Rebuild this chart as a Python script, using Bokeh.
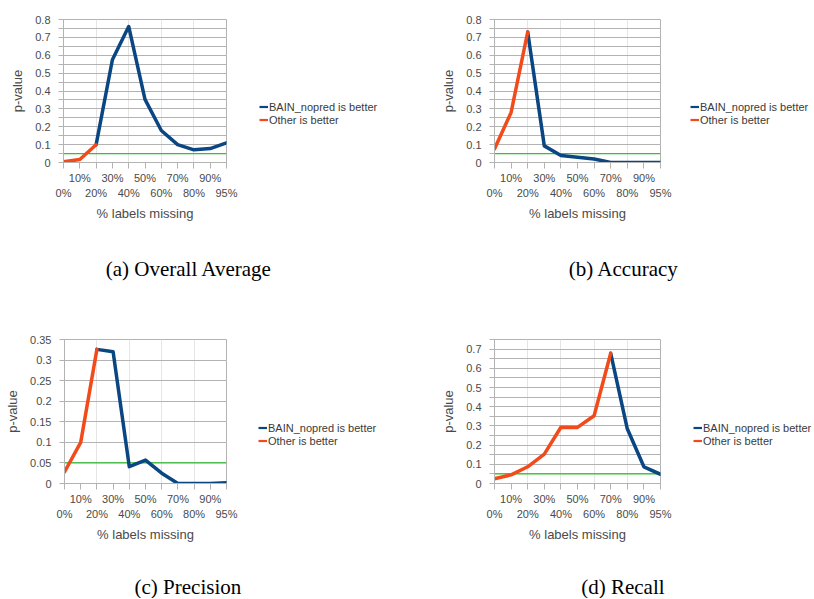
import numpy as np
from bokeh.plotting import figure
from bokeh.models import (Range1d, LinearAxis, FixedTicker, Grid, Span, Legend,
                          LegendItem, Label, NumeralTickFormatter)
from bokeh.layouts import row, column
from bokeh.embed import file_html
from bokeh.resources import INLINE

NaN = float("nan")

# ---------------- data ----------------
pct_labels = ["0%", "10%", "20%", "30%", "40%", "50%", "60%", "70%", "80%", "90%", "95%"]
x_index = list(range(len(pct_labels)))

overall_bain = [NaN, NaN, 0.099, 0.575, 0.761, 0.353, 0.179, 0.100, 0.071, 0.078, 0.110]
overall_other = [0.004, 0.017, 0.099, NaN, NaN, NaN, NaN, NaN, NaN, NaN, NaN]

accuracy_bain = [NaN, NaN, 0.730, 0.093, 0.039, 0.030, 0.020, 0.000, 0.000, 0.000, 0.000]
accuracy_other = [0.076, 0.280, 0.730, NaN, NaN, NaN, NaN, NaN, NaN, NaN, NaN]

precision_bain = [NaN, NaN, 0.326, 0.320, 0.041, 0.057, 0.025, 0.000, 0.000, 0.000, 0.002]
precision_other = [0.028, 0.100, 0.326, NaN, NaN, NaN, NaN, NaN, NaN, NaN, NaN]

recall_bain = [NaN, NaN, NaN, NaN, NaN, NaN, NaN, 0.678, 0.285, 0.087, 0.048]
recall_other = [0.025, 0.045, 0.087, 0.153, 0.293, 0.292, 0.353, 0.678, NaN, NaN, NaN]

yticks_08 = [0, 0.1, 0.2, 0.3, 0.4, 0.5, 0.6, 0.7, 0.8]
yminor_08 = [0.05, 0.15, 0.25, 0.35, 0.45, 0.55, 0.65, 0.75]
yticks_035 = [0, 0.05, 0.1, 0.15, 0.2, 0.25, 0.3, 0.35]
yticks_07 = [0, 0.1, 0.2, 0.3, 0.4, 0.5, 0.6, 0.7]
yminor_075 = [0.05, 0.15, 0.25, 0.35, 0.45, 0.55, 0.65, 0.75]

threshold = 0.05
series_names = ["BAIN_nopred is better", "Other is better"]
captions = ["(a)  Overall Average", "(b)  Accuracy", "(c)  Precision", "(d)  Recall"]
x_title = "% labels missing"
y_title = "p-value"

# ---------------- style ----------------
BLUE = "#0a4682"
ORANGE = "#f24a1a"
GREEN = "#2ec42e"
GRID = "#b3b3b3"
TXT = "#4a4a4a"
SANS = "Liberation Sans"
SERIF = "Liberation Serif"


def blank_figure(w, h):
    f = figure(width=w, height=h, min_border=0,
               x_range=Range1d(0, 1), y_range=Range1d(0, 1),
               x_axis_location=None, y_axis_location=None,
               tools="", toolbar_location=None, output_backend="svg",
               background_fill_color="white", border_fill_color="white",
               outline_line_color=None)
    f.grid.visible = False
    return f


def make_panel(bain, other, ymax, yticks, yminor, g):
    p = figure(width=g["w"], height=g["h"],
               min_border_left=g["l"], min_border_right=13,
               min_border_top=g["t"], min_border_bottom=g["b"],
               x_range=Range1d(0, len(pct_labels) - 1), y_range=Range1d(0, ymax),
               x_axis_location=None, y_axis_location=None,
               tools="", toolbar_location=None, output_backend="svg",
               background_fill_color="white", border_fill_color="white",
               outline_line_color=GRID, outline_line_width=1)

    # y axis
    yax = LinearAxis(ticker=FixedTicker(ticks=yticks, minor_ticks=yminor),
                     formatter=NumeralTickFormatter(format="0.[00]"),
                     axis_label=y_title)
    yax.axis_line_color = GRID
    yax.major_tick_line_color = GRID
    yax.minor_tick_line_color = GRID
    yax.major_tick_out = 5
    yax.major_tick_in = 0
    yax.minor_tick_out = 5
    yax.minor_tick_in = 0
    yax.major_label_standoff = 8
    yax.major_label_text_font = SANS
    yax.major_label_text_font_size = "11px"
    yax.major_label_text_color = TXT
    yax.axis_label_text_font = SANS
    yax.axis_label_text_font_size = "13px"
    yax.axis_label_text_font_style = "normal"
    yax.axis_label_text_color = TXT
    yax.axis_label_standoff = 7
    p.add_layout(yax, "left")

    grid = Grid(dimension=1, ticker=yax.ticker, grid_line_color=GRID,
                minor_grid_line_color=GRID if yminor else None)
    p.add_layout(grid)

    # x axes: staggered labels
    ax1 = LinearAxis(ticker=FixedTicker(ticks=x_index),
                     major_label_overrides={i: (lab if i % 2 == 1 else "")
                                            for i, lab in zip(x_index, pct_labels)})
    ax1.axis_line_color = GRID
    ax1.major_tick_line_color = GRID
    ax1.major_tick_out = 6
    ax1.major_tick_in = 0
    ax1.minor_tick_line_color = None
    ax1.major_label_standoff = 3
    ax1.major_label_text_font = SANS
    ax1.major_label_text_font_size = "11px"
    ax1.major_label_text_color = TXT
    p.add_layout(ax1, "below")

    even = x_index[::2]
    ax2 = LinearAxis(ticker=FixedTicker(ticks=even),
                     major_label_overrides={i: pct_labels[i] for i in even},
                     axis_label=x_title)
    ax2.axis_line_color = None
    ax2.major_tick_line_color = None
    ax2.minor_tick_line_color = None
    ax2.major_tick_out = 0
    ax2.major_tick_in = 0
    ax2.major_label_standoff = 0
    ax2.major_label_text_font = SANS
    ax2.major_label_text_font_size = "11px"
    ax2.major_label_text_color = TXT
    ax2.axis_label_text_font = SANS
    ax2.axis_label_text_font_size = "13px"
    ax2.axis_label_text_font_style = "normal"
    ax2.axis_label_text_color = TXT
    ax2.axis_label_standoff = 4
    p.add_layout(ax2, "below")

    p.add_layout(Span(location=threshold, dimension="width", line_color=GREEN,
                      line_width=1.3, level="underlay"))

    p.line(x_index, np.array(bain, dtype=float), line_color=BLUE, line_width=3.5,
           line_join="round", line_cap="round")
    p.line(x_index, np.array(other, dtype=float), line_color=ORANGE, line_width=3.5,
           line_join="round", line_cap="round")
    return p


def make_legend(bain, other, w, h, loc):
    f = blank_figure(w, h)
    # hidden copies of the series: only their legend swatches are shown
    lb = f.line(x_index, np.array(bain, dtype=float), line_color=BLUE, line_width=2.2,
                visible=False)
    lo = f.line(x_index, np.array(other, dtype=float), line_color=ORANGE, line_width=2.2,
                visible=False)
    legend = Legend(items=[LegendItem(label=series_names[0], renderers=[lb]),
                           LegendItem(label=series_names[1], renderers=[lo])],
                    location=loc, orientation="vertical", click_policy="none",
                    glyph_width=9, glyph_height=13, label_height=13,
                    label_standoff=1, spacing=0, padding=0, margin=0,
                    border_line_color=None, background_fill_alpha=0,
                    inactive_fill_alpha=0,
                    label_text_font=SANS, label_text_font_size="11px",
                    label_text_color="#3a3a3a")
    f.add_layout(legend)
    return f


def make_caption(text, w, h, cx, cy):
    c = blank_figure(w, h)
    c.add_layout(Label(x=cx, y=h - cy, x_units="screen", y_units="screen",
                       text=text, text_align="center", text_baseline="middle",
                       text_font=SERIF, text_font_size="21px", text_color="black"))
    return c


pa = make_panel(overall_bain, overall_other, 0.8, yticks_08, yminor_08,
                dict(w=239, h=240, l=63, t=19, b=78))
la = make_legend(overall_bain, overall_other, 168, 240, (20, 36))
pb = make_panel(accuracy_bain, accuracy_other, 0.8, yticks_08, yminor_08,
                dict(w=266, h=240, l=87, t=19, b=78))
lb = make_legend(accuracy_bain, accuracy_other, 140, 240, (17, 36))

pc = make_panel(precision_bain, precision_other, 0.35, yticks_035, [],
                dict(w=239, h=260, l=64, t=39, b=77))
lc = make_legend(precision_bain, precision_other, 168, 260, (19, 36))
pd = make_panel(recall_bain, recall_other, 0.75, yticks_07, yminor_075,
                dict(w=266, h=260, l=87, t=33, b=77))
ld = make_legend(recall_bain, recall_other, 140, 260, (20, 36))

ca = make_caption(captions[0], 407, 60, 191, 28)
cb = make_caption(captions[1], 406, 60, 219, 28)
cc = make_caption(captions[2], 407, 38, 190, 26)
cd = make_caption(captions[3], 406, 38, 218, 26)

layout = column(row(pa, la, pb, lb, spacing=0), row(ca, cb, spacing=0),
                row(pc, lc, pd, ld, spacing=0), row(cc, cd, spacing=0), spacing=0)

open("out.html", "w").write(file_html(layout, INLINE))
